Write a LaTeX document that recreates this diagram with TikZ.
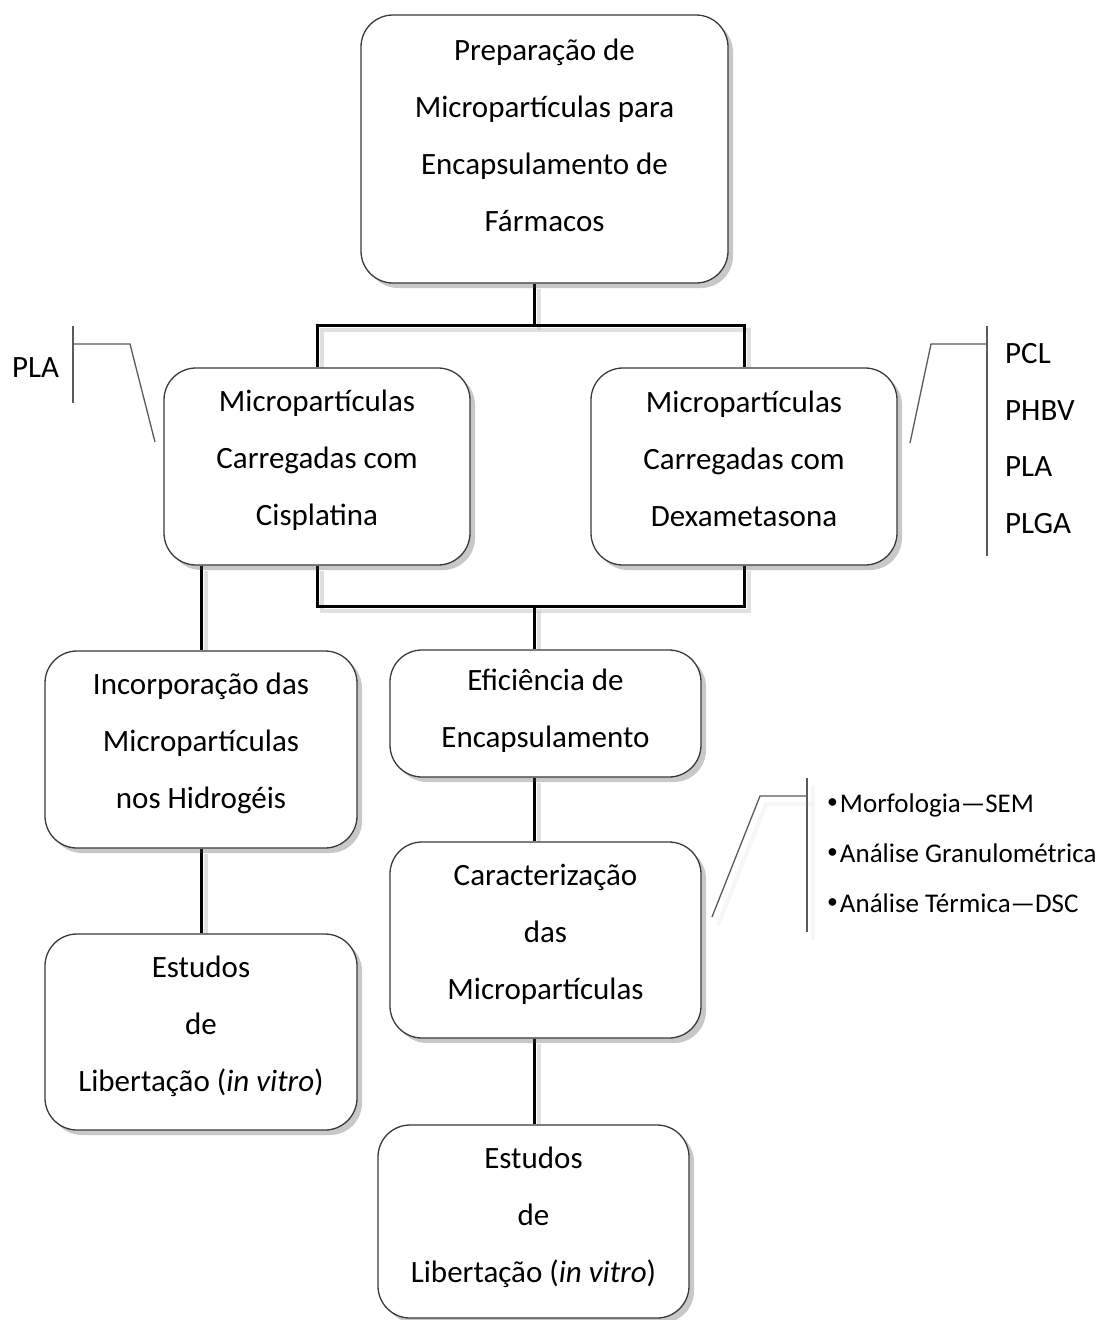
\documentclass[tikz,border=0pt]{standalone}
\usepackage{fontspec}
\setmainfont{Carlito}
\usetikzlibrary{shadows,backgrounds}
\definecolor{boxline}{HTML}{3A3A3A}
\definecolor{callgray}{HTML}{5A5A5A}
\begin{document}
\begin{tikzpicture}[x=1pt,y=-1pt,
  mbox/.style={draw=boxline, line width=1.3pt, rounded corners=32pt, fill=white,
    inner sep=0pt,
    drop shadow={shadow xshift=5pt, shadow yshift=-5pt, opacity=0.3, fill=black!70}},
  btext/.style={align=center, inner sep=0pt, font=\fontsize{31}{57}\selectfont},
  conn/.style={line width=3pt, draw=black,
    preaction={draw=black!30, line width=4pt, opacity=0.4,
      transform canvas={shift={(5pt,-5pt)}}}},
  callout/.style={draw=callgray, line width=1.3pt},
  callshadow/.style={draw=black!6, line width=4pt, opacity=0.6},
  ctext/.style={anchor=base west, inner sep=0pt, font=\fontsize{31}{36}\selectfont},
  ltext/.style={anchor=base west, inner sep=0pt, font=\fontsize{27}{32}\selectfont}
]
\useasboundingbox (0,0) rectangle (1099,1320);
\begin{scope}[on background layer]
\fill[white] (0,0) rectangle (1099,1320);
\end{scope}

% boxes
\node[mbox, minimum width=367pt, minimum height=268pt] (top) at (544.5,149) {};
\node[mbox, minimum width=306pt, minimum height=197pt] (cis) at (317,466.5) {};
\node[mbox, minimum width=306pt, minimum height=197pt] (dex) at (744,466.5) {};
\node[mbox, minimum width=312pt, minimum height=197pt] (inc) at (201,749.5) {};
\node[mbox, minimum width=311pt, minimum height=127pt] (efi) at (545.5,713.5) {};
\node[mbox, minimum width=311pt, minimum height=196pt] (car) at (545.5,940) {};
\node[mbox, minimum width=312pt, minimum height=196pt] (estl) at (201,1032) {};
\node[mbox, minimum width=311pt, minimum height=193pt] (estb) at (533.5,1221.5) {};

% box texts
\node[btext] (topt) at ([yshift=14pt]top.center)
  {Preparação de\\Micropartículas para\\Encapsulamento de\\Fármacos};
\node[btext] (cist) at ([yshift=6pt]cis.center)
  {Micropartículas\\Carregadas com\\Cisplatina};
\node[btext] (dext) at ([yshift=8pt]dex.center)
  {Micropartículas\\Carregadas com\\Dexametasona};
\node[btext] (inct) at ([yshift=6pt]inc.center)
  {Incorporação das\\Micropartículas\\nos Hidrogéis};
\node[btext] (efit) at ([yshift=2.5pt]efi.center)
  {Eficiência de\\Encapsulamento};
\node[btext] (cart) at ([yshift=6pt]car.center)
  {Caracterização\\das\\Micropartículas};
\node[btext] (estlt) at ([yshift=6pt]estl.center)
  {Estudos\\de\\Libertação (\textit{in vitro})};
\node[btext] (estbt) at ([yshift=4.5pt]estb.center)
  {Estudos\\de\\Libertação (\textit{in vitro})};

% junction coordinates
\coordinate (j1) at (534,325);
\coordinate (j2) at (534,606);

% connectors
\begin{scope}[on background layer]
\draw[conn] (top.south -| j1) -- (j1);
\draw[conn] (cis.north) -- (cis.north |- j1) -- (dex.north |- j1) -- (dex.north);
\draw[conn] (cis.south) -- (cis.south |- j2) -- (dex.south |- j2) -- (dex.south);
\draw[conn] (j2) -- (efi.north -| j2);
\draw[conn] (cis.south -| inc.north) -- (inc.north);
\draw[conn] (inc.south) -- (estl.north);
\draw[conn] (efi.south -| j2) -- (car.north -| j2);
\draw[conn] (car.south -| j2) -- (estb.north -| j2);
\end{scope}

% left callout
\coordinate (la) at (73,326);
\coordinate (lb) at (73,403);
\coordinate (lc) at (73,344);
\coordinate (ld) at (130,344);
\coordinate (le) at (155,442);
\draw[callout] (la) -- (lb);
\draw[callout] (lc) -- (ld) -- (le);
\node[ctext] (pla1) at (12,377) {PLA};

% right callout
\coordinate (ra) at (987,326);
\coordinate (rb) at (987,556);
\coordinate (rc) at (987,344);
\coordinate (rd) at (931,344);
\coordinate (re) at (910,443);
\draw[callout] (ra) -- (rb);
\draw[callout] (rc) -- (rd) -- (re);
\node[ctext] (pcl) at (1005,363) {PCL};
\node[ctext] (phbv) at (1005,420) {PHBV};
\node[ctext] (pla2) at (1005,476) {PLA};
\node[ctext] (plga) at (1005,533) {PLGA};

% characterisation callout
\coordinate (ca) at (807,778);
\coordinate (cb) at (807,932);
\coordinate (cc) at (807,796);
\coordinate (cd) at (760,796);
\coordinate (ce) at (712,917);
\draw[callshadow] ([shift={(6,8)}]ca) -- ([shift={(6,8)}]cb);
\draw[callshadow] ([shift={(6,8)}]cc) -- ([shift={(6,8)}]cd) -- ([shift={(6,8)}]ce);
\draw[callout] (ca) -- (cb);
\draw[callout] (cc) -- (cd) -- (ce);
\node[ltext] (m1) at (827,812) {\raisebox{0.14em}{\scalebox{0.8}{•}}\hspace{2pt}Morfologia—SEM};
\node[ltext] (m2) at (827,862) {\raisebox{0.14em}{\scalebox{0.8}{•}}\hspace{2pt}Análise Granulométrica};
\node[ltext] (m3) at (827,912) {\raisebox{0.14em}{\scalebox{0.8}{•}}\hspace{2pt}Análise Térmica—DSC};
\end{tikzpicture}
\end{document}
